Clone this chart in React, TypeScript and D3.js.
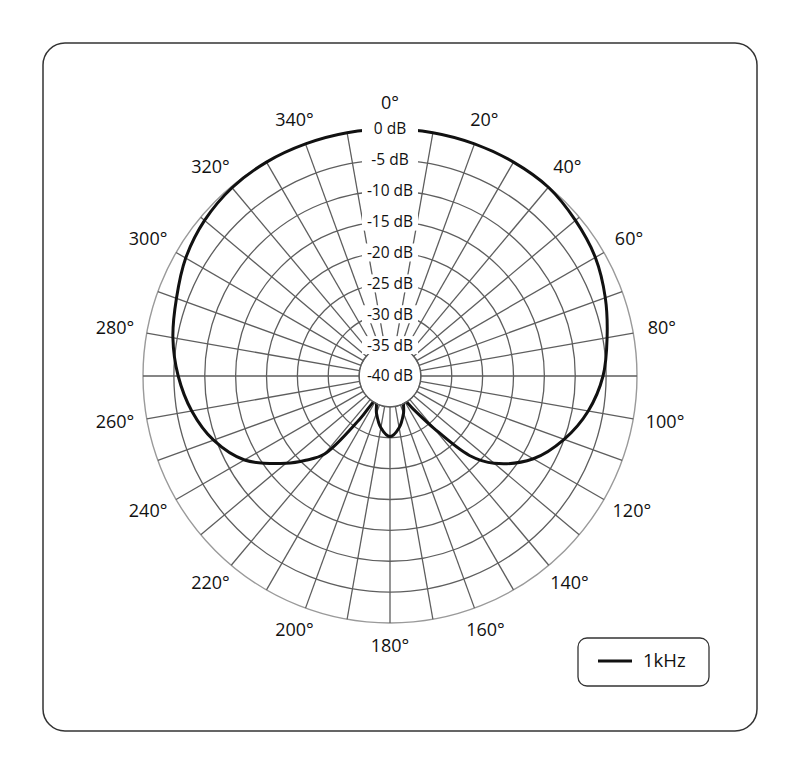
import React from "react";
import * as d3 from "d3";

const angles = [0, 10, 20, 30, 40, 50, 60, 70, 80, 90, 100, 110, 120, 130, 135, 140, 145, 150, 160, 170, 180, 190, 200, 210, 215, 220, 225, 230, 240, 250, 260, 270, 280, 290, 300, 310, 320, 330, 340, 350];
const levels1k = [0, 0, 0, 0, -0.1, -0.8, -1.6, -2.9, -4.3, -5.5, -7.4, -10, -13.2, -18, -21.8, -29, -33.5, -35.4, -33.6, -31.5, -30.2, -31.5, -33.6, -35.4, -31.5, -23.5, -20.7, -18, -12.8, -9.6, -7.4, -5.7, -4.3, -3.2, -1.8, -0.8, -0.2, 0, 0, 0];
const ringLevels = [-35, -30, -25, -20, -15, -10, -5];
const dbLabels = ["0 dB", "-5 dB", "-10 dB", "-15 dB", "-20 dB", "-25 dB", "-30 dB", "-35 dB"];
const dbLabelValues = [0, -5, -10, -15, -20, -25, -30, -35];
const angleLabels = [0, 20, 40, 60, 80, 100, 120, 140, 160, 180, 200, 220, 240, 260, 280, 300, 320, 340];
const spokeAngles = d3.range(0, 360, 10);
const legendLabel = "1kHz";

const W = 800;
const H = 772;
const cx = 390;
const cy = 376;
const R = 247;

export default function App() {
  const r = d3.scaleLinear().domain([-40, 0]).range([0, R]);
  const rad = (deg: number) => (deg * Math.PI) / 180;
  const pt = (deg: number, rr: number) => [cx + rr * Math.sin(rad(deg)), cy - rr * Math.cos(rad(deg))];

  const data = angles.map((a, i) => ({ a, v: levels1k[i] }));
  const line = d3
    .lineRadial<{ a: number; v: number }>()
    .angle((d) => rad(d.a))
    .radius((d) => r(d.v))
    .curve(d3.curveCatmullRomClosed.alpha(0.5));

  const inner = r(-35);
  const font = "'Open Sans', 'Noto Sans', sans-serif";

  return (
    <svg width={W} height={H} style={{ position: "absolute", left: 0, top: 0, background: "#fff" }}>
      <rect x={43} y={43} width={714} height={688} rx={22} ry={22} fill="#fff" stroke="#333" strokeWidth={1.5} />
      <circle cx={cx} cy={cy} r={r(0)} fill="none" stroke="#9a9a9a" strokeWidth={1.4} />
      {ringLevels.map((lv) => (
        <circle key={lv} cx={cx} cy={cy} r={r(lv)} fill="none" stroke="#5e5e5e" strokeWidth={1.3} />
      ))}
      {spokeAngles
        .filter((a) => a !== 0)
        .map((a) => {
          const [x1, y1] = pt(a, inner);
          const [x2, y2] = pt(a, r(0));
          return <line key={a} x1={x1} y1={y1} x2={x2} y2={y2} stroke="#5e5e5e" strokeWidth={1.3} />;
        })}
      <g transform={`translate(${cx},${cy})`}>
        <path d={line(data) || ""} fill="none" stroke="#111" strokeWidth={3} strokeLinejoin="round" />
      </g>
      <circle cx={cx} cy={cy} r={inner - 0.7} fill="#fff" />
      <circle cx={cx} cy={cy} r={inner} fill="none" stroke="#5e5e5e" strokeWidth={1.3} />
      {dbLabelValues.map((v, i) => (
        <g key={v}>
          <rect x={cx - 28} y={cy - r(v) - 9} width={56} height={18} fill="#fff" />
          <text x={cx} y={cy - r(v)} dy="0.35em" textAnchor="middle" fontFamily={font} fontSize={15.5} fill="#111">
            {dbLabels[i]}
          </text>
        </g>
      ))}
      <text x={cx} y={cy} dy="0.35em" textAnchor="middle" fontFamily={font} fontSize={15.5} fill="#111">
        -40 dB
      </text>
      {angleLabels.map((a) => {
        const label = `${a}°`;
        const w = label.length * 9.5;
        const rx = 266 + 0.35 * w;
        const x = cx + rx * Math.sin(rad(a));
        const y = cy - 271.5 * Math.cos(rad(a)) - 1.5;
        return (
          <text key={a} x={x} y={y} dy="0.35em" textAnchor="middle" fontFamily={font} fontSize={18} fill="#111">
            {label}
          </text>
        );
      })}
      <rect x={578} y={638} width={131} height={48} rx={9} ry={9} fill="#fff" stroke="#333" strokeWidth={1.3} />
      <line x1={598} y1={661} x2={632} y2={661} stroke="#111" strokeWidth={3} />
      <text x={643} y={661} dy="0.35em" fontFamily={font} fontSize={18.5} fill="#111">
        {legendLabel}
      </text>
    </svg>
  );
}
